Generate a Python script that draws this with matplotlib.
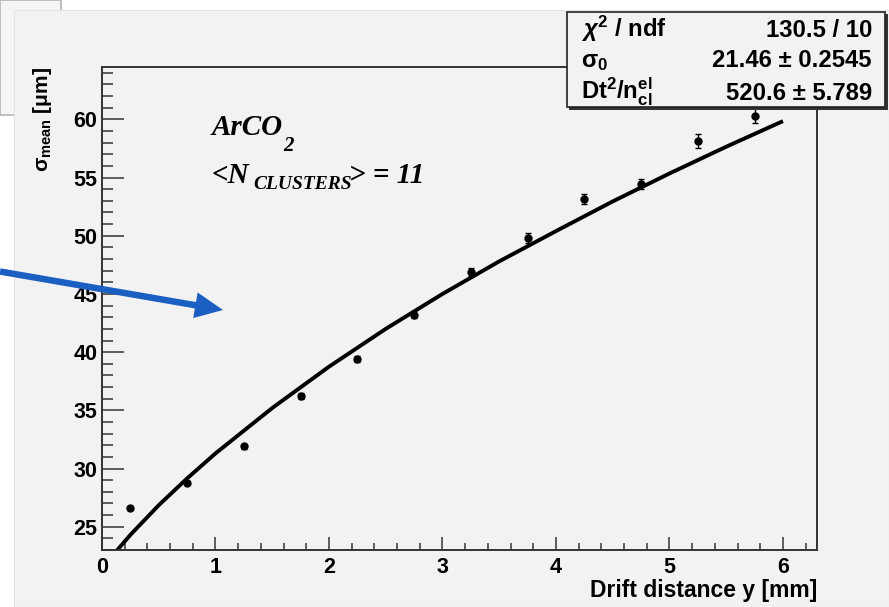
import matplotlib
matplotlib.use('Agg')
import matplotlib.pyplot as plt
import matplotlib.transforms as mtransforms
from matplotlib.patches import Rectangle, FancyArrow
from matplotlib.ticker import MultipleLocator

plt.rcParams['font.family'] = ['Liberation Sans', 'DejaVu Sans']
plt.rcParams['font.weight'] = 'bold'
plt.rcParams['mathtext.fontset'] = 'custom'
plt.rcParams['mathtext.rm'] = 'Liberation Sans:bold'
plt.rcParams['mathtext.bf'] = 'Liberation Sans:bold'
plt.rcParams['mathtext.it'] = 'Liberation Sans:italic:bold'
plt.rcParams['mathtext.sf'] = 'Liberation Sans'

# measured points (drift distance, sigma mean, error)
drift = [0.25, 0.75, 1.25, 1.75, 2.25, 2.75, 3.25, 3.75, 4.25, 4.75, 5.25, 5.75]
sigma = [26.6, 28.75, 31.9, 36.25, 39.4, 43.2, 46.9, 49.8, 53.15, 54.45, 58.15, 60.3]
sigma_err = [0.2, 0.2, 0.2, 0.25, 0.25, 0.3, 0.35, 0.45, 0.45, 0.45, 0.6, 0.65]

# fit curve
fit_x = [0.1, 0.25, 0.5, 0.75, 1.0, 1.5, 2.0, 2.5, 3.0, 3.5, 4.0, 4.5, 5.0, 5.5, 6.0]
fit_y = [22.6, 24.3, 26.85, 29.15, 31.3, 35.2, 38.75, 42.0, 45.0, 47.8, 50.4, 52.95, 55.35, 57.65, 59.85]

stat_names = [r'$\chi^{2}$ / ndf', r'$\mathrm{\sigma_{0}}$', r'$\mathrm{Dt^{2}/n_{cl}^{el}}$']
stat_values = ['130.5 / 10', '21.46 ± 0.2545', '520.6 ± 5.789']

W, H = 889, 607
fig = plt.figure(figsize=(W / 100, H / 100), dpi=100)
fig.patch.set_facecolor('white')
# image pixel coords, y going down
px = mtransforms.Affine2D().scale(1, -1).translate(0, H).scale(1 / 100) + fig.dpi_scale_trans

# window behind and the canvas
fig.add_artist(Rectangle((0, 0), 61, 115, transform=px, facecolor='#f5f5f5',
                         edgecolor='#b5b5b5', lw=1.2, zorder=0))
fig.add_artist(Rectangle((14, 10), W - 14, H - 10, transform=px, facecolor='#f2f2f2',
                         edgecolor='#e4e4e4', lw=0.8, zorder=0.5))

ax = fig.add_axes([102 / W, (H - 550) / H, 715 / W, 483 / H])
ax.set_facecolor('#f2f2f2')
ax.set_zorder(1)

ax.plot(fit_x, fit_y, color='black', lw=2.8, solid_capstyle='butt')
ax.errorbar(drift, sigma, yerr=sigma_err, fmt='o', color='black', ms=5,
            elinewidth=1.0, capsize=2.5, capthick=1.0)

ax.set_xlim(0, 6.3)
ax.set_ylim(23, 64.5)
ax.xaxis.set_major_locator(MultipleLocator(1))
ax.xaxis.set_minor_locator(MultipleLocator(0.2))
ax.yaxis.set_major_locator(MultipleLocator(5))
ax.yaxis.set_minor_locator(MultipleLocator(1))
ax.tick_params(axis='x', which='major', direction='in', length=9.5, width=1.1,
               color='#333333', labelsize=15.5, pad=5, top=False)
ax.tick_params(axis='x', which='minor', direction='in', length=5, width=1.1,
               color='#333333', top=False)
ax.tick_params(axis='y', which='major', direction='in', length=15.5, width=1.1,
               color='#333333', labelsize=15.5, pad=3.5, right=False)
ax.tick_params(axis='y', which='minor', direction='in', length=8, width=1.1,
               color='#333333', right=False)
ax.set_yticks([25, 30, 35, 40, 45, 50, 55, 60])
ax.set_xticks([0, 1, 2, 3, 4, 5, 6])
for s in ax.spines.values():
    s.set_color('#333333')
    s.set_linewidth(1.4)

# gas labels in serif bold italic
serif = dict(family='Liberation Serif', style='italic', weight='bold')
fig.text(212, 135, 'ArCO', transform=px, fontsize=21, va='baseline', zorder=3, **serif)
fig.text(283, 151, '2', transform=px, fontsize=15, va='baseline', zorder=3, **serif)
fig.text(212, 183, '<N', transform=px, fontsize=21, va='baseline', zorder=3, **serif)
fig.text(253, 189, 'CLUSTERS', transform=px, fontsize=14, va='baseline', zorder=3, **serif)
fig.text(424, 183, '> = 11', transform=px, fontsize=21, va='baseline', ha='right',
         zorder=3, **serif)

# axis titles
fig.text(817, 590, 'Drift distance y [mm]', transform=px, ha='right', va='center',
         fontsize=16.5, zorder=3)
fig.text(43, 119, r'$\mathrm{\sigma_{mean}}$ [μm]', transform=px, rotation=90,
         ha='center', va='center', fontsize=15, zorder=3)

# fit statistics box with shadow
fig.add_artist(Rectangle((569, 14), 319, 96, transform=px, facecolor='#333333',
                         edgecolor='none', zorder=4))
fig.add_artist(Rectangle((567, 12), 318, 95, transform=px, facecolor='#f2f2f2',
                         edgecolor='#222222', lw=1.2, zorder=5))
row_y = [37, 67, 100]
for name, val, yb in zip(stat_names, stat_values, row_y):
    fig.text(581, yb, name, transform=px, ha='left', va='baseline', fontsize=17.2, zorder=6)
    fig.text(872, yb, val, transform=px, ha='right', va='baseline', fontsize=17.2, zorder=6)

# blue arrow overlay
fig.add_artist(FancyArrow(0, 271.5, 223, 38.5, width=6.5, head_width=26, head_length=28,
                          length_includes_head=True, transform=px, color='#1c5fc2',
                          lw=0, zorder=7))

fig.savefig('out.png', dpi=100)
